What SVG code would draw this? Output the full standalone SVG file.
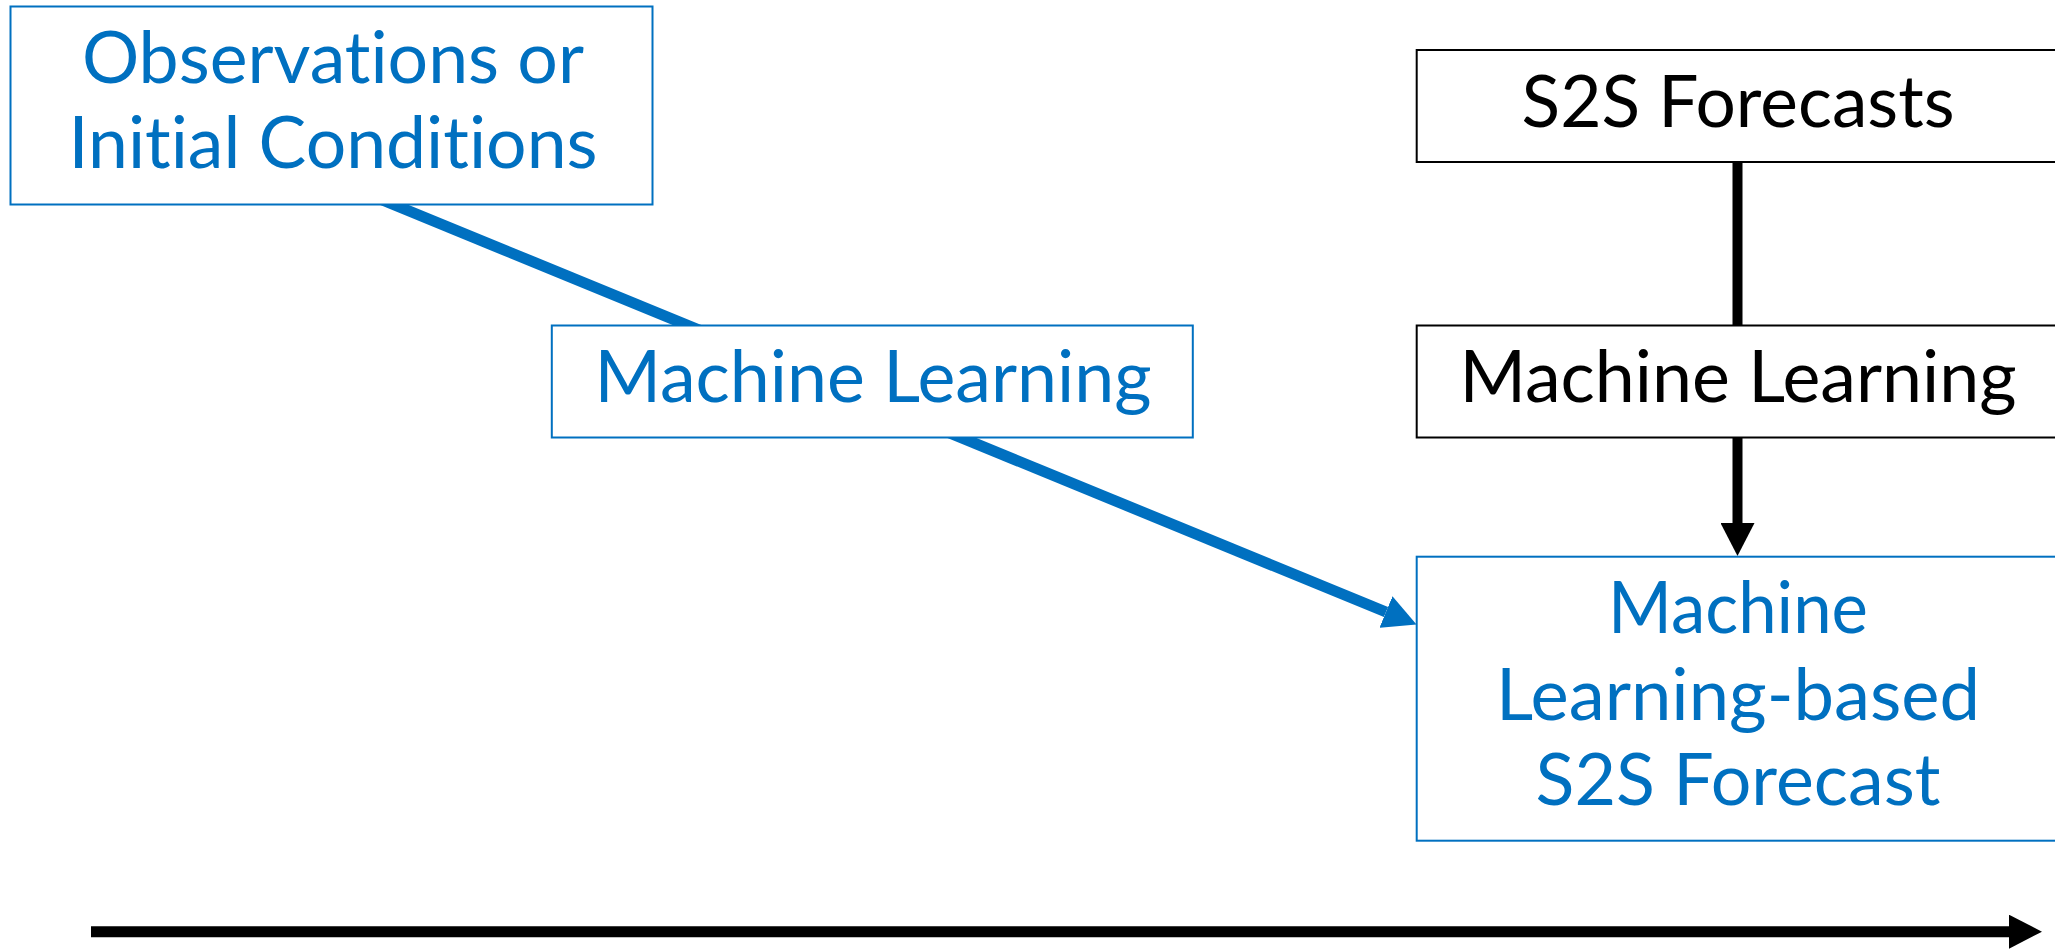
<svg xmlns="http://www.w3.org/2000/svg" width="2055" height="951" viewBox="0 0 2055 951">
  <style>
    .box-blue { fill: #ffffff; stroke: #0070C0; stroke-width: 2; }
    .box-black { fill: #ffffff; stroke: #000000; stroke-width: 2; }
    .label { font-family: Lato, "Noto Sans", "Liberation Sans", sans-serif; font-size: 72px; text-anchor: middle; font-variant-ligatures: none; font-feature-settings: "liga" 0, "clig" 0; }
    .blue { fill: #0070C0; }
    .black { fill: #000000; }
  </style>
  <defs>
    <marker id="head-blue" markerUnits="userSpaceOnUse" markerWidth="34" markerHeight="34" viewBox="0 0 34 34" refX="0" refY="17" orient="auto">
      <path d="M0,0 L33,17 L0,34 Z" fill="#0070C0"/>
    </marker>
    <marker id="head-black" markerUnits="userSpaceOnUse" markerWidth="34" markerHeight="34" viewBox="0 0 34 34" refX="0" refY="17" orient="auto">
      <path d="M0,0 L33,17 L0,34 Z" fill="#000000"/>
    </marker>
  </defs>

  <rect width="2055" height="951" fill="#ffffff"/>

  <!-- connectors (drawn first so the boxes sit on top of them) -->
  <g id="connectors">
    <line x1="358" y1="190" x2="1386" y2="612" stroke="#0070C0" stroke-width="11" marker-end="url(#head-blue)"/>
    <line x1="1737.5" y1="162" x2="1737.5" y2="523" stroke="#000000" stroke-width="10" marker-end="url(#head-black)"/>
    <line x1="91" y1="931.7" x2="2009" y2="931.7" stroke="#000000" stroke-width="11" marker-end="url(#head-black)"/>
  </g>

  <g id="observations">
    <rect class="box-blue" x="10.5" y="6.5" width="642" height="198"/>
    <text class="label blue" x="333" y="83.3" textLength="502" lengthAdjust="spacingAndGlyphs">Observations or</text>
    <text class="label blue" x="333" y="168.3" textLength="529" lengthAdjust="spacingAndGlyphs">Initial Conditions</text>
  </g>

  <g id="ml-left">
    <rect class="box-blue" x="551.8" y="325.5" width="641" height="112"/>
    <text class="label blue" x="873" y="401.7" textLength="557" lengthAdjust="spacingAndGlyphs">Machine Learning</text>
  </g>

  <g id="s2s-forecasts">
    <rect class="box-black" x="1416.7" y="50" width="642" height="112"/>
    <text class="label black" x="1738" y="126.7" textLength="433" lengthAdjust="spacingAndGlyphs">S2S Forecasts</text>
  </g>

  <g id="ml-right">
    <rect class="box-black" x="1416.7" y="325.5" width="642" height="112"/>
    <text class="label black" x="1738" y="401.7" textLength="557" lengthAdjust="spacingAndGlyphs">Machine Learning</text>
  </g>

  <g id="ml-s2s-forecast">
    <rect class="box-blue" x="1416.7" y="556.7" width="642" height="284"/>
    <text class="label blue" x="1738" y="633.3" textLength="260" lengthAdjust="spacingAndGlyphs">Machine</text>
    <text class="label blue" x="1738" y="720" textLength="484" lengthAdjust="spacingAndGlyphs">Learning-based</text>
    <text class="label blue" x="1738" y="805" textLength="405" lengthAdjust="spacingAndGlyphs">S2S Forecast</text>
  </g>
</svg>
